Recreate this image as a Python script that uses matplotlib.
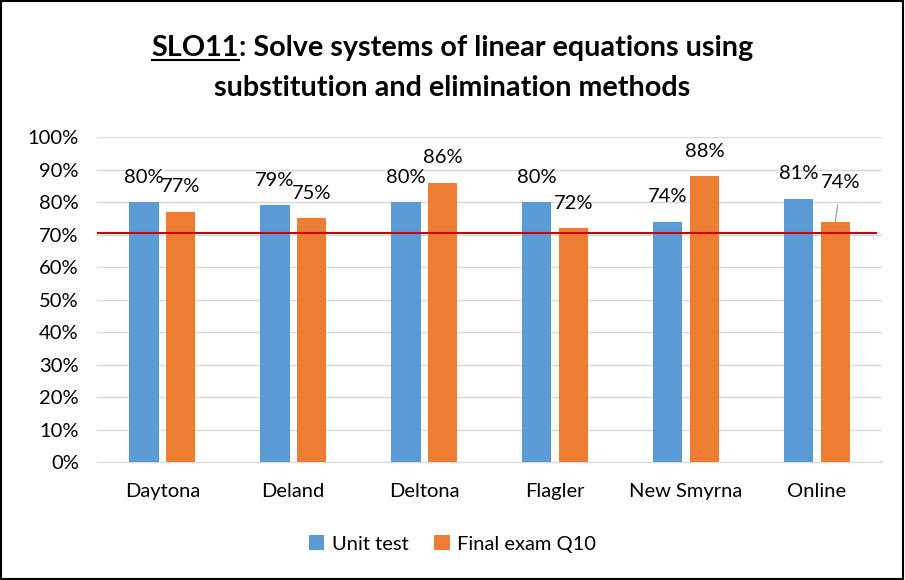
import matplotlib
matplotlib.use("Agg")
import matplotlib.pyplot as plt
import numpy as np
from matplotlib.patches import Rectangle

plt.rcParams['font.family'] = ['Lato', 'DejaVu Sans']

categories = ["Daytona", "Deland", "Deltona", "Flagler", "New Smyrna", "Online"]
unit_test = [80, 79, 80, 80, 74, 81]
final_exam = [77, 75, 86, 72, 88, 74]
target = 70.5
yticks = [0, 10, 20, 30, 40, 50, 60, 70, 80, 90, 100]

blue = "#5B9BD5"
orange = "#ED7D31"

fig = plt.figure(figsize=(9.05, 5.8), dpi=100)
ax = fig.add_axes([0.107, 0.2034, 0.868, 0.5603])

x = np.arange(len(categories))
w = 0.225
off = 0.14
b1 = ax.bar(x - off, unit_test, w, color=blue, label="Unit test", zorder=3)
b2 = ax.bar(x + off, final_exam, w, color=orange, label="Final exam Q10", zorder=3)

ax.set_ylim(0, 100)
ax.set_xlim(-0.5, len(categories) - 0.5)
ax.set_yticks(yticks)
ax.set_yticklabels([f"{t}%" for t in yticks], fontsize=14.5)
ax.set_xticks(x)
ax.set_xticklabels(categories, fontsize=14.5)
ax.tick_params(axis='y', length=0, pad=13)
ax.tick_params(axis='x', length=0, pad=15)
ax.grid(axis='y', color="#D9D9D9", linewidth=1, zorder=0)
for s in ['top', 'right', 'left']:
    ax.spines[s].set_visible(False)
ax.spines['bottom'].set_color("#D9D9D9")

ax.plot([-0.5, len(categories) - 0.55], [target, target], color="#D00000", linewidth=1.5, zorder=4)

for xi, v in zip(x - off, unit_test):
    ax.annotate(f"{v}%", (xi, v), xytext=(0, 18), textcoords="offset points",
                ha='center', va='center', fontsize=14.5)
for i, (xi, v) in enumerate(zip(x + off, final_exam)):
    if i == len(categories) - 1:
        ax.annotate(f"{v}%", (xi, v), xytext=(4, 28), textcoords="offset points",
                    ha='center', va='center', fontsize=14.5,
                    arrowprops=dict(arrowstyle='-', color='#A6A6A6', lw=1,
                                    shrinkA=8, shrinkB=0))
    else:
        ax.annotate(f"{v}%", (xi, v), xytext=(0, 18), textcoords="offset points",
                    ha='center', va='center', fontsize=14.5)

# Title with underlined "SLO11"
fig.canvas.draw()
r = fig.canvas.get_renderer()
ty1 = 0.904
t1a = fig.text(0.5, ty1, "SLO11", fontsize=20.7, fontweight='bold', ha='left', va='baseline')
t1b = fig.text(0.5, ty1, ": Solve systems of linear equations using", fontsize=20.7,
               fontweight='bold', ha='left', va='baseline')
ba = t1a.get_window_extent(r)
bb = t1b.get_window_extent(r)
total = ba.width + bb.width
W = fig.bbox.width
start = (W - total) / 2
t1a.set_x(start / W)
t1b.set_x((start + ba.width) / W)
yb = ty1 * fig.bbox.height - 4
fig.add_artist(plt.Line2D([start / W, (start + ba.width) / W], [yb / fig.bbox.height] * 2,
                          color='black', linewidth=1.5, transform=fig.transFigure))
fig.text(0.5, 0.835, "substitution and elimination methods", fontsize=20.7,
         fontweight='bold', ha='center', va='baseline')

fig.legend(handles=[b1, b2], loc='center', bbox_to_anchor=(0.5, 0.062), ncol=2,
           frameon=False, fontsize=14.5, handlelength=0.75, handleheight=0.75,
           columnspacing=1.3, handletextpad=0.35)

fig.add_artist(Rectangle((0.001, 0.001), 0.997, 0.997, transform=fig.transFigure,
                         fill=False, edgecolor='black', linewidth=1.5))

fig.savefig("out.png", dpi=100)
